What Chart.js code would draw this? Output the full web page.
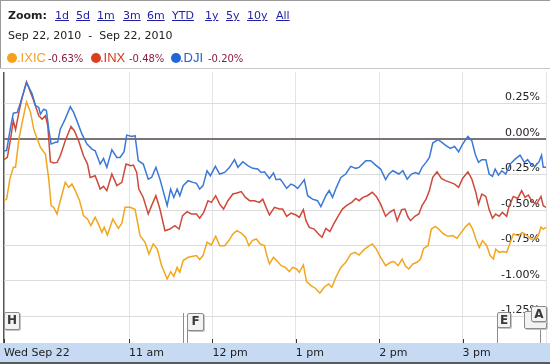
<!DOCTYPE html>
<html lang="en">
<head>
  <meta charset="UTF-8" />
  <title>.IXIC .INX .DJI - Sep 22, 2010</title>
  <script src="https://cdn.jsdelivr.net/npm/chart.js"></script>
  <style>
    body {
      margin: 0;
      width: 550px;
      height: 364px;
      overflow: hidden;
      background: #fff;
      font-family: "DejaVu Sans", Verdana, sans-serif;
      position: relative;
    }
    #grafico {
      position: absolute;
      left: 0;
      top: 0;
    }
    .t {
      position: absolute;
      white-space: pre;
      font-size: 11px;
      line-height: 13px;
      color: #222;
    }
    .lnk {
      color: #1f1fa8;
      text-decoration: underline;
    }
    .dot {
      position: absolute;
      width: 10px;
      height: 10px;
      border-radius: 50%;
    }
    .sym {
      position: absolute;
      font-family: "Liberation Sans", Arial, sans-serif;
      font-size: 13px;
      line-height: 14px;
    }
    .chg {
      position: absolute;
      font-size: 10px;
      line-height: 12px;
      color: #8a1f40;
    }
    .flag {
      position: absolute;
      background: #f3f3f3;
      border: 1px solid #8c8c8c;
      border-radius: 2px;
      box-shadow: 1px 1px 0 #c4c4c4;
      font: bold 12px "DejaVu Sans", sans-serif;
      color: #3a3a3a;
      text-align: center;
      line-height: 15px;
    }
    .pole {
      position: absolute;
      width: 1px;
      background: #8c8c8c;
    }
    .frame {
      position: absolute;
      background: #9a9a9a;
    }
  </style>
</head>
<body>
  <canvas id="grafico" width="550" height="364"></canvas>

  <!-- cabecera -->
  <div class="frame" style="left:0;top:0;width:550px;height:1px;"></div>
  <div class="frame" style="left:0;top:0;width:1px;height:69px;"></div>
  <div class="frame" style="left:0;top:68px;width:550px;height:1px;background:#c8c8c8;"></div>

  <div class="t" style="left:8px;top:9px;font-weight:bold;">Zoom:</div>
  <div class="t lnk" style="left:55px;top:9px;">1d</div>
  <div class="t lnk" style="left:76px;top:9px;">5d</div>
  <div class="t lnk" style="left:97px;top:9px;">1m</div>
  <div class="t lnk" style="left:123px;top:9px;">3m</div>
  <div class="t lnk" style="left:147px;top:9px;">6m</div>
  <div class="t lnk" style="left:172px;top:9px;">YTD</div>
  <div class="t lnk" style="left:205px;top:9px;">1y</div>
  <div class="t lnk" style="left:226px;top:9px;">5y</div>
  <div class="t lnk" style="left:247px;top:9px;">10y</div>
  <div class="t lnk" style="left:276px;top:9px;">All</div>

  <div class="t" style="left:8px;top:29px;">Sep 22, 2010  -  Sep 22, 2010</div>

  <div class="dot" style="left:7px;top:53px;background:#f6a11a;"></div>
  <div class="sym" style="left:17px;top:51px;color:#f2a12a;">.IXIC</div>
  <div class="chg" style="left:48px;top:53px;">-0.63%</div>
  <div class="dot" style="left:91px;top:53px;background:#db3f1f;"></div>
  <div class="sym" style="left:100px;top:51px;color:#d43a1c;">.INX</div>
  <div class="chg" style="left:129px;top:53px;">-0.48%</div>
  <div class="dot" style="left:171px;top:53px;background:#2068d6;"></div>
  <div class="sym" style="left:180px;top:51px;color:#2463cf;">.DJI</div>
  <div class="chg" style="left:208px;top:53px;">-0.20%</div>

  <!-- banderas de noticias -->
  <div class="flag" style="left:4px;top:312px;width:14px;height:16px;">H</div>
  <div class="pole" style="left:183px;top:313px;height:30px;"></div>
  <div class="pole" style="left:187px;top:326px;height:17px;"></div>
  <div class="flag" style="left:187px;top:313px;width:15px;height:16px;">F</div>
  <div class="pole" style="left:497px;top:326px;height:17px;"></div>
  <div class="flag" style="left:497px;top:312px;width:12px;height:14px;line-height:14px;">E</div>
  <div class="pole" style="left:540px;top:326px;height:17px;"></div>
  <div class="flag" style="left:524px;top:311px;width:21px;height:16px;"></div>
  <div class="flag" style="left:531px;top:306px;width:14px;height:14px;line-height:14px;">A</div>

  <script>
    // minutos desde la apertura (9:30)
    const xTickValues = [0, 90, 150, 210, 270, 330, 390];
    const xTickLabels = ["Wed Sep 22", "11 am", "12 pm", "1 pm", "2 pm", "3 pm", ""];
    const yTickValues = [0.25, 0, -0.25, -0.5, -0.75, -1, -1.25];

    const djiTimes = [0,1.9,4.7,6.7,9.5,11.9,16.2,20.3,22.6,25.0,26.2,28.6,30.5,32.2,33.9,37.0,38.6,40.5,44.0,47.7,50.1,52.9,56.1,59.7,63.3,65.6,69.2,71.6,74.0,77.6,81.2,83.5,86.4,88.3,91.9,94.3,96.6,100.2,103.8,106.2,109.3,112.2,117.4,119.9,122.2,124.6,126.5,128.9,132.5,136.0,138.5,140.8,143.2,146.1,148.5,152.1,155.2,158.8,162.3,165.9,168.3,171.9,175.4,179.0,182.6,185.0,187.4,191.0,193.9,195.8,198.7,200.5,203.4,206.5,208.9,211.3,213.7,216.1,218.5,222.0,225.6,228.0,231.6,234.0,236.4,239.2,242.4,245.9,249.5,253.1,255.5,260.3,263.9,267.4,271.0,274.6,277.0,279.8,284.1,287.0,290.1,293.2,296.1,298.5,300.8,303.7,306.1,308.5,312.3,315.1,318.0,321.2,324.2,327.1,330.0,333.8,336.6,339.1,341.4,343.8,346.7,349.1,351.5,353.4,355.8,358.2,361.0,364.2,367.8,371.3,374.4,376.8,379.2,382.1,385.0,386.8,388.0,390];
    const djiValues = [-0.082,-0.080,0.082,0.183,0.188,0.258,0.399,0.317,0.237,0.223,0.176,0.211,0.202,0.070,-0.035,-0.023,-0.023,0.070,0.141,0.228,0.188,0.118,0.035,-0.035,-0.070,-0.082,-0.176,-0.136,-0.199,-0.075,-0.129,-0.129,-0.089,0.028,0.019,0.024,-0.152,-0.176,-0.282,-0.270,-0.199,-0.282,-0.469,-0.352,-0.411,-0.352,-0.399,-0.328,-0.293,-0.305,-0.312,-0.352,-0.328,-0.223,-0.258,-0.192,-0.246,-0.235,-0.199,-0.145,-0.199,-0.159,-0.187,-0.206,-0.211,-0.235,-0.230,-0.277,-0.239,-0.286,-0.282,-0.305,-0.347,-0.317,-0.328,-0.347,-0.317,-0.286,-0.399,-0.423,-0.434,-0.476,-0.399,-0.363,-0.411,-0.340,-0.270,-0.246,-0.192,-0.206,-0.199,-0.152,-0.152,-0.183,-0.211,-0.286,-0.245,-0.223,-0.246,-0.223,-0.282,-0.246,-0.235,-0.246,-0.199,-0.164,-0.129,-0.028,-0.004,-0.023,-0.046,-0.065,-0.051,-0.089,-0.035,0.019,-0.011,-0.106,-0.164,-0.145,-0.145,-0.246,-0.263,-0.211,-0.254,-0.223,-0.246,-0.176,-0.141,-0.113,-0.164,-0.145,-0.176,-0.192,-0.159,-0.113,-0.199,-0.199];

    const inxTimes = [0,2.4,4.7,6.7,8.3,10.7,13.1,16.2,19.1,21.4,25.0,27.4,29.8,31.5,33.4,35.7,38.2,40.5,44.1,48.2,50.6,53.7,57.2,60.1,62.0,65.6,69.2,71.6,74.0,77.6,81.2,84.8,87.8,91.2,93.1,95.5,97.0,100.2,103.8,106.2,109.3,112.2,115.8,119.4,122.9,126.0,128.5,131.7,134.9,138.5,140.8,143.7,146.8,149.2,152.3,155.2,158.0,161.1,164.7,167.6,170.7,173.8,176.7,180.2,183.8,186.2,188.6,191.0,194.6,198.2,200.5,203.4,206.5,210.1,212.5,215.4,217.3,219.7,223.2,226.3,228.8,231.6,234.5,236.8,239.9,243.5,246.4,250.2,253.1,255.5,258.3,261.4,265.0,267.9,271.0,274.6,277.5,280.6,282.9,286.1,288.5,290.8,292.5,295.6,298.5,300.8,303.7,306.1,308.5,311.6,314.7,317.6,321.2,324.2,327.1,330.0,333.8,336.6,339.5,341.4,343.8,346.7,349.1,351.5,353.8,356.3,358.6,361.7,363.4,366.5,369.6,372.5,374.9,377.3,380.1,383.2,386.4,388.0,390];
    const inxValues = [-0.145,-0.129,0.000,0.130,0.066,0.188,0.294,0.404,0.329,0.270,0.165,0.141,0.165,0.094,-0.159,-0.169,-0.164,-0.117,-0.011,0.089,0.059,-0.011,-0.117,-0.176,-0.270,-0.258,-0.352,-0.333,-0.363,-0.246,-0.328,-0.305,-0.176,-0.187,-0.183,-0.235,-0.352,-0.411,-0.528,-0.469,-0.399,-0.493,-0.646,-0.634,-0.610,-0.634,-0.539,-0.511,-0.528,-0.528,-0.558,-0.516,-0.434,-0.446,-0.399,-0.458,-0.493,-0.434,-0.387,-0.380,-0.370,-0.411,-0.434,-0.434,-0.446,-0.423,-0.481,-0.535,-0.481,-0.493,-0.493,-0.544,-0.521,-0.535,-0.551,-0.497,-0.575,-0.622,-0.634,-0.669,-0.692,-0.629,-0.652,-0.606,-0.551,-0.493,-0.469,-0.446,-0.418,-0.434,-0.411,-0.399,-0.375,-0.404,-0.458,-0.544,-0.516,-0.497,-0.575,-0.497,-0.493,-0.551,-0.575,-0.544,-0.528,-0.469,-0.423,-0.363,-0.270,-0.230,-0.277,-0.293,-0.305,-0.317,-0.340,-0.277,-0.230,-0.282,-0.375,-0.458,-0.387,-0.404,-0.497,-0.558,-0.528,-0.544,-0.516,-0.544,-0.474,-0.404,-0.418,-0.363,-0.411,-0.394,-0.441,-0.458,-0.404,-0.469,-0.481];

    const ixicTimes = [0,1.9,4.2,6.7,8.3,10.7,13.1,16.2,19.1,21.4,23.9,26.2,29.8,32.2,33.9,35.7,38.2,40.5,44.1,46.5,48.9,51.3,54.4,57.2,60.1,62.5,65.6,68.0,70.4,72.1,74.4,78.3,82.3,84.8,87.1,90.7,94.3,97.9,101.5,104.3,107.4,110.3,113.4,117.4,119.9,122.2,124.6,126.5,128.9,132.5,136.0,138.5,140.8,143.2,146.1,149.2,152.3,155.2,158.8,161.8,164.7,167.6,170.7,173.8,176.2,178.6,181.5,184.3,187.4,189.1,191.0,193.9,196.9,199.4,202.5,205.3,207.7,210.6,212.5,215.4,217.7,220.9,224.0,227.3,230.4,233.5,235.9,238.8,242.4,245.9,249.5,252.6,255.5,259.1,262.2,265.0,267.9,271.0,274.6,278.2,280.6,283.6,286.5,288.9,291.3,294.2,297.2,299.7,302.0,305.1,307.5,310.4,312.7,316.3,319.5,322.8,325.9,329.1,332.4,334.8,337.2,339.5,342.0,344.3,347.4,349.8,352.2,353.8,356.3,359.3,361.7,363.4,366.5,370.1,372.9,376.0,379.2,382.1,384.5,386.4,388.1,390];
    const ixicValues = [-0.434,-0.423,-0.282,-0.199,-0.199,0.000,0.118,0.263,0.188,0.070,0.000,-0.058,-0.106,-0.282,-0.469,-0.481,-0.528,-0.434,-0.305,-0.340,-0.317,-0.363,-0.434,-0.539,-0.563,-0.610,-0.551,-0.599,-0.657,-0.622,-0.676,-0.563,-0.629,-0.592,-0.481,-0.481,-0.495,-0.680,-0.727,-0.810,-0.739,-0.775,-0.892,-0.986,-0.934,-0.967,-0.904,-0.939,-0.856,-0.833,-0.826,-0.821,-0.849,-0.821,-0.727,-0.746,-0.685,-0.751,-0.751,-0.715,-0.669,-0.645,-0.662,-0.692,-0.751,-0.715,-0.704,-0.739,-0.751,-0.821,-0.880,-0.833,-0.863,-0.892,-0.904,-0.934,-0.904,-0.915,-0.939,-0.887,-1.004,-1.032,-1.051,-1.085,-1.044,-1.021,-1.044,-0.974,-0.904,-0.868,-0.810,-0.798,-0.817,-0.779,-0.756,-0.739,-0.775,-0.833,-0.892,-0.868,-0.863,-0.892,-0.845,-0.896,-0.915,-0.880,-0.868,-0.845,-0.770,-0.751,-0.634,-0.615,-0.634,-0.669,-0.685,-0.680,-0.699,-0.657,-0.615,-0.592,-0.634,-0.704,-0.763,-0.715,-0.751,-0.821,-0.845,-0.775,-0.798,-0.793,-0.798,-0.751,-0.669,-0.680,-0.657,-0.676,-0.704,-0.708,-0.680,-0.620,-0.634,-0.622];

    function puntos(times, values) {
      if (times.length !== values.length) {
        throw new Error("longitudes distintas: " + times.length + " vs " + values.length);
      }
      return times.map((t, i) => ({ x: t, y: values[i] }));
    }

    // banda azul del eje x, marcas de hora y bordes
    const decorado = {
      id: 'decorado',
      beforeDraw(chart) {
        const { ctx, chartArea: a, scales: { x } } = chart;
        ctx.save();
        ctx.fillStyle = '#c6daf3';
        ctx.fillRect(0, a.bottom, chart.width, x.bottom - a.bottom);
        ctx.fillStyle = '#5a5a5a';
        ctx.fillRect(0, x.bottom, chart.width, 2);
        ctx.restore();
      },
      afterDraw(chart) {
        const { ctx, chartArea: a, scales: { x } } = chart;
        ctx.save();
        ctx.strokeStyle = '#333';
        ctx.lineWidth = 1;
        ctx.beginPath();
        xTickValues.slice(0, -1).forEach(v => {
          const px = Math.round(x.getPixelForValue(v)) + 0.5;
          ctx.moveTo(px, a.bottom - 4);
          ctx.lineTo(px, a.bottom);
        });
        ctx.stroke();
        ctx.restore();
      }
    };

    const ctx = document.getElementById("grafico").getContext("2d");
    new Chart(ctx, {
      type: 'line',
      data: {
        datasets: [
          { label: '.DJI', data: puntos(djiTimes, djiValues), borderColor: '#3b78d4', order: 1 },
          { label: '.INX', data: puntos(inxTimes, inxValues), borderColor: '#cd4a3a', order: 2 },
          { label: '.IXIC', data: puntos(ixicTimes, ixicValues), borderColor: '#f2a61e', order: 3 }
        ]
      },
      plugins: [decorado],
      options: {
        responsive: false,
        animation: false,
        events: [],
        layout: { padding: { top: 72, left: 3, right: 2.25, bottom: 2 } },
        elements: {
          line: { borderWidth: 1.5, tension: 0, fill: false },
          point: { radius: 0 }
        },
        plugins: {
          legend: { display: false },
          tooltip: { enabled: false }
        },
        scales: {
          x: {
            type: 'linear',
            min: 0,
            max: 390,
            afterBuildTicks: s => { s.ticks = xTickValues.map(v => ({ value: v })); },
            afterFit: s => { s.height = 19; },
            border: { display: false },
            grid: {
              drawTicks: false,
              color: c => c.index === 0 ? '#555' : '#e3e3e3',
              lineWidth: c => c.index === 0 ? 1.5 : 1
            },
            ticks: {
              align: 'start',
              padding: 4,
              maxRotation: 0,
              autoSkip: false,
              color: '#222',
              font: { family: 'DejaVu Sans', size: 11 },
              callback: (v, i) => xTickLabels[i]
            }
          },
          y: {
            position: 'right',
            min: -1.437,
            max: 0.473,
            afterBuildTicks: s => { s.ticks = yTickValues.map(v => ({ value: v })); },
            afterFit: s => { s.width = 0; },
            border: { display: false },
            grid: {
              drawTicks: false,
              color: c => c.tick && c.tick.value === 0 ? '#7d7373' : '#dcdcdc',
              lineWidth: c => c.tick && c.tick.value === 0 ? 2 : 1
            },
            ticks: {
              mirror: true,
              padding: -6,
              labelOffset: -6,
              color: '#222',
              font: { family: 'DejaVu Sans', size: 11 },
              callback: v => v.toFixed(2) + '%'
            }
          }
        }
      }
    });
  </script>
</body>
</html>
